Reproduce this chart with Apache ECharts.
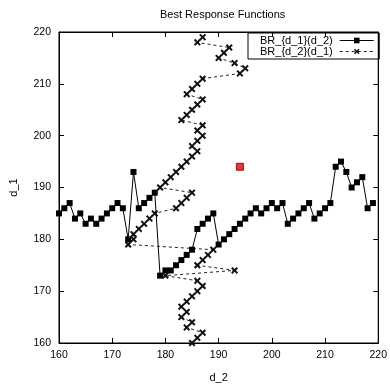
<!DOCTYPE html>
<html>
<head>
<meta charset="utf-8">
<script src="https://cdn.jsdelivr.net/npm/echarts@6/dist/echarts.min.js"></script>
<style>
  html, body { margin: 0; padding: 0; background: #fff; }
  #chart { width: 390px; height: 388px; }
</style>
</head>
<body>
<div id="chart"></div>
<script>
// strategy grid (same for both players)
const strategies = [160, 161, 162, 163, 164, 165, 166, 167, 168, 169,
                    170, 171, 172, 173, 174, 175, 176, 177, 178, 179,
                    180, 181, 182, 183, 184, 185, 186, 187, 188, 189,
                    190, 191, 192, 193, 194, 195, 196, 197, 198, 199,
                    200, 201, 202, 203, 204, 205, 206, 207, 208, 209,
                    210, 211, 212, 213, 214, 215, 216, 217, 218, 219];

// d_1 best response to each d_2
const brD1 = [185, 186, 187, 184, 185, 183, 184, 183, 184, 185,
              186, 187, 186, 180, 193, 186, 187, 188, 189, 173,
              174, 174, 175, 176, 177, 178, 182, 183, 184, 185,
              179, 180, 181, 182, 183, 184, 185, 186, 185, 186,
              187, 186, 187, 183, 184, 185, 186, 187, 184, 185,
              186, 187, 194, 195, 193, 190, 191, 192, 186, 187];

// d_2 best response to each d_1
const brD2 = [185, 186, 187, 184, 185, 183, 184, 183, 184, 185,
              186, 187, 186, 180, 193, 186, 187, 188, 189, 173,
              174, 174, 175, 176, 177, 178, 182, 183, 184, 185,
              179, 180, 181, 182, 183, 184, 185, 186, 185, 186,
              187, 186, 187, 183, 184, 185, 186, 187, 184, 185,
              186, 187, 194, 195, 193, 190, 191, 192, 186, 187];

const equilibrium = [194, 194];
const ticks = [160, 170, 180, 190, 200, 210, 220];

const font = 'Liberation Sans, Arial, sans-serif';
// filled "x" shape, gnuplot point type 2 look
const crossPath = 'path://M0,2L2,0L5,3L8,0L10,2L7,5L10,8L8,10L5,7L2,10L0,8L3,5Z';

const chart = echarts.init(document.getElementById('chart'));

const axisBase = {
  type: 'value',
  min: ticks[0],
  max: ticks[ticks.length - 1],
  interval: 10,
  splitLine: { show: false },
  axisLine: { show: true, onZero: false, lineStyle: { color: '#000', width: 1 } },
  axisTick: { show: true, inside: true, length: 5, lineStyle: { color: '#000' } },
};

chart.setOption({
  animation: false,
  title: {
    text: 'Best Response Functions',
    left: 160,
    top: 9,
    padding: 0,
    textStyle: { fontFamily: font, fontSize: 11, fontWeight: 'normal', color: '#000' }
  },
  grid: {
    left: 59, right: 7, top: 32, bottom: 33,
    show: true, borderColor: '#000', borderWidth: 1
  },
  legend: {
    data: ['BR_{d_1}(d_2)', 'BR_{d_2}(d_1)'],
    orient: 'vertical',
    left: 248,
    top: 33,
    align: 'right',
    itemWidth: 34,
    itemHeight: 7,
    itemGap: 0,
    padding: [2, 5, 2, 12],
    borderColor: '#000',
    borderWidth: 1,
    lineStyle: { width: 1 },
    textStyle: { fontFamily: font, fontSize: 11, color: '#000', padding: [0, 2, 0, 0] }
  },
  xAxis: [
    Object.assign({}, axisBase, {
      name: 'd_2',
      nameLocation: 'middle',
      nameGap: 29,
      nameTextStyle: { fontFamily: font, fontSize: 11, color: '#000' },
      axisLabel: { fontFamily: font, fontSize: 10.5, color: '#000', margin: 7 }
    }),
    Object.assign({}, axisBase, { position: 'top', axisLabel: { show: false } })
  ],
  yAxis: [
    Object.assign({}, axisBase, {
      name: 'd_1',
      nameLocation: 'middle',
      nameGap: 40,
      nameTextStyle: { fontFamily: font, fontSize: 11, color: '#000' },
      axisLabel: { fontFamily: font, fontSize: 10.5, color: '#000', margin: 8 }
    }),
    Object.assign({}, axisBase, { position: 'right', axisLabel: { show: false } })
  ],
  series: [
    {
      name: 'BR_{d_1}(d_2)',
      type: 'line',
      data: strategies.map((d2, i) => [d2, brD1[i]]),
      symbol: 'rect',
      symbolSize: 6,
      showAllSymbol: true,
      itemStyle: { color: '#000' },
      lineStyle: { color: '#000', width: 1 },
      z: 3
    },
    {
      name: 'BR_{d_2}(d_1)',
      type: 'line',
      data: strategies.map((d1, i) => [brD2[i], d1]),
      symbol: crossPath,
      symbolSize: 7,
      showAllSymbol: true,
      itemStyle: { color: '#111' },
      lineStyle: { color: '#222', width: 1, type: [3, 3] },
      z: 2
    },
    {
      name: 'equilibrium',
      type: 'scatter',
      data: [equilibrium],
      symbol: 'rect',
      symbolSize: 7,
      itemStyle: { color: '#ee0000', borderColor: '#600000', borderWidth: 1 },
      z: 4
    }
  ]
});
</script>
</body>
</html>
